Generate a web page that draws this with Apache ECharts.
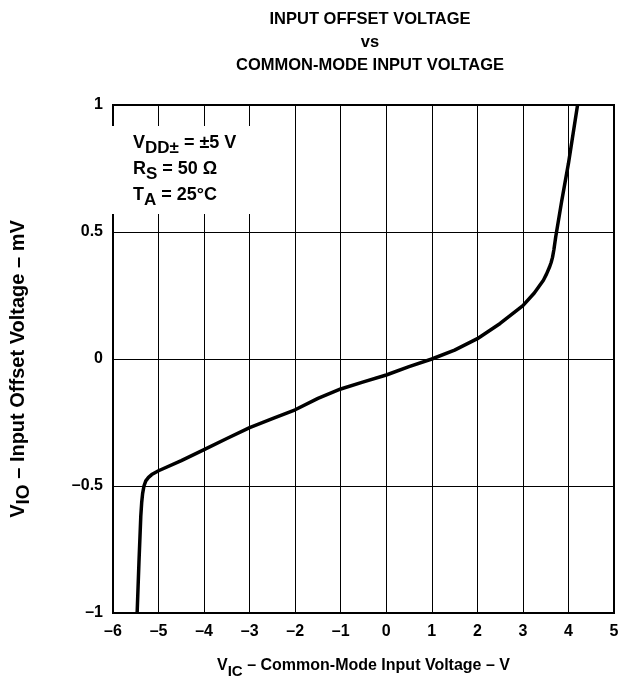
<!DOCTYPE html>
<html><head><meta charset="utf-8">
<script src="https://cdn.jsdelivr.net/npm/echarts@6/dist/echarts.min.js"></script>
<style>html,body{margin:0;padding:0;background:#fff}#c{width:634px;height:685px}</style>
</head><body><div id="c"></div>
<script>
// Common-mode input voltage (V)
const vic = [-5.47, -5.43, -5.39, -5.37, -5.35, -5.32, -5.28, -5.22, -5.15, -5.05, -5.00, -4.50, -4.00, -3.50, -3.00, -2.50, -2.00, -1.50, -1.00, -0.50, 0.00, 0.50, 1.00, 1.50, 2.00, 2.50, 3.00, 3.25, 3.45, 3.52, 3.58, 3.62, 3.65, 3.68, 3.72, 3.85, 4.00, 4.20];
// Input offset voltage (mV)
const vio = [-1.00, -0.80, -0.62, -0.565, -0.53, -0.50, -0.48, -0.466, -0.455, -0.445, -0.44, -0.40, -0.357, -0.313, -0.27, -0.235, -0.20, -0.155, -0.118, -0.09, -0.063, -0.03, 0.00, 0.035, 0.08, 0.14, 0.21, 0.26, 0.31, 0.335, 0.36, 0.38, 0.40, 0.43, 0.48, 0.62, 0.77, 1.00];
const xTicks = [-6, -5, -4, -3, -2, -1, 0, 1, 2, 3, 4, 5];
const yTicks = [-1, -0.5, 0, 0.5, 1];
const notes = ['{m|V}{s|DD\u00b1}{m| = \u00b15 V}', '{m|R}{s|S}{m| = 50 \u03a9}', '{m|T}{s|A}{m| = 25\u00b0C}'];

const FONT = '"Liberation Sans", Arial, sans-serif';
const chart = echarts.init(document.getElementById('c'), null, {renderer: 'canvas'});
const fmt = v => String(v).replace('-', '\u2013');
function styles(size, drop) {
  return {
    m: {fontFamily: FONT, fontWeight: 'bold', fontSize: size, color: '#000', verticalAlign: 'top'},
    s: {fontFamily: FONT, fontWeight: 'bold', fontSize: size - 1, color: '#000', verticalAlign: 'bottom', padding: [drop, 0, 0, 0]}
  };
}

chart.setOption({
  animation: false,
  backgroundColor: '#fff',
  title: {
    text: 'INPUT OFFSET VOLTAGE\nvs\nCOMMON-MODE INPUT VOLTAGE',
    left: 365, top: 3, textAlign: 'center',
    textStyle: {fontFamily: FONT, fontWeight: 'bold', fontSize: 16.5, lineHeight: 23, color: '#000'}
  },
  grid: {left: 110, right: 20, top: 105, bottom: 72, show: true, borderColor: '#000', borderWidth: 2, backgroundColor: 'transparent'},
  xAxis: {
    type: 'value', min: -6, max: 5, interval: 1,
    axisLine: {show: true, onZero: false, lineStyle: {color: '#000', width: 2}},
    axisTick: {show: false},
    splitLine: {show: true, lineStyle: {color: '#000', width: 1}},
    axisLabel: {margin: 11, fontFamily: FONT, fontWeight: 'bold', fontSize: 16, color: '#000',
      formatter: v => xTicks.includes(v) ? fmt(v) : ''},
    name: '{m|V}{s|IC}{m| \u2013 Common-Mode Input Voltage \u2013 V}',
    nameLocation: 'middle', nameGap: 45,
    nameTextStyle: {rich: styles(16, 6)}
  },
  yAxis: {
    type: 'value', min: -1, max: 1, interval: 0.5,
    axisLine: {show: true, onZero: false, lineStyle: {color: '#000', width: 2}},
    axisTick: {show: false},
    splitLine: {show: true, lineStyle: {color: '#000', width: 1}},
    axisLabel: {margin: 10, fontFamily: FONT, fontWeight: 'bold', fontSize: 16, color: '#000',
      formatter: v => yTicks.includes(v) ? fmt(v) : ''},
    name: '{m|V}{s|IO}{m| \u2013 Input Offset Voltage \u2013 mV}',
    nameLocation: 'middle', nameGap: 80, nameRotate: 90,
    nameTextStyle: {rich: styles(20, 6), padding: [0, 20, 0, 0]}
  },
  graphic: [
    {type: 'rect', left: 112, top: 126, shape: {width: 160, height: 88}, style: {fill: '#fff'}, z: 5}
  ].concat(notes.map((t, i) => ({
    type: 'text', left: 133, top: 134 + i * 26, z: 6,
    style: {text: t, rich: styles(18, 6)}
  }))),
  series: [{
    type: 'line', data: vic.map((x, i) => [x, vio[i]]),
    showSymbol: false, smooth: false,
    lineStyle: {color: '#000', width: 3.5, join: 'round'}, z: 10
  }]
});
</script></body></html>
